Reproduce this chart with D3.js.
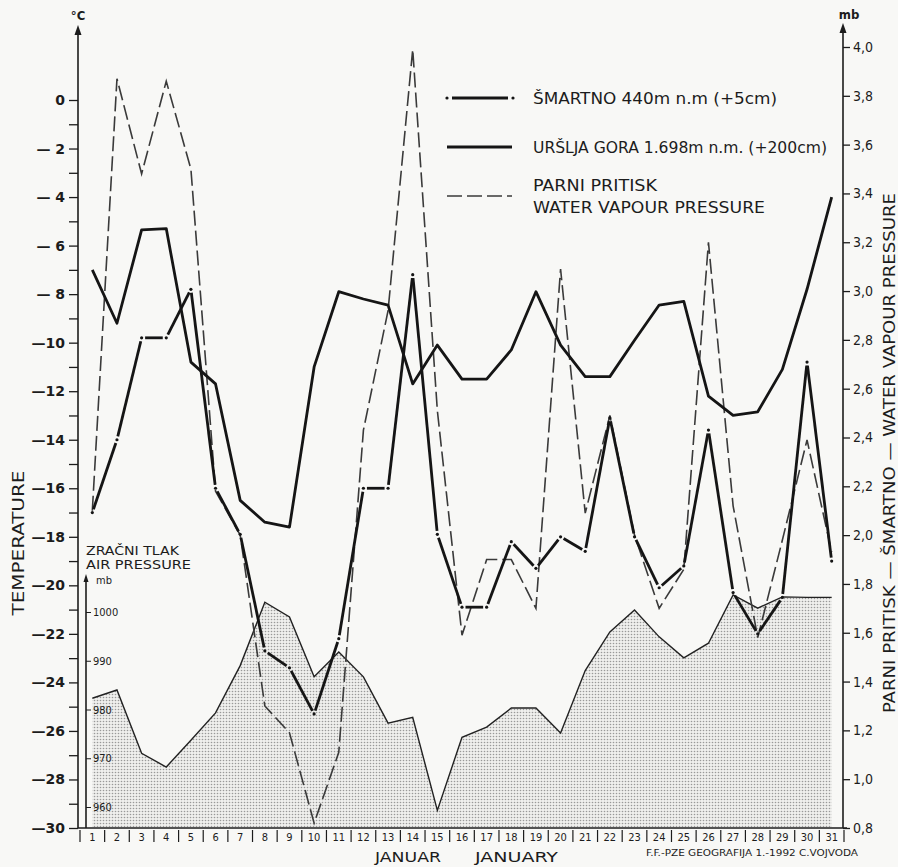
<!DOCTYPE html>
<html>
<head>
<meta charset="utf-8">
<script src="https://cdn.jsdelivr.net/npm/d3@7"></script>
<style>
  body { margin: 0; background: #f8f8f6; }
  svg { display: block; }
  text { fill: #1c1c1c; font-family: "DejaVu Sans Condensed", "DejaVu Sans", sans-serif; }
</style>
</head>
<body>
<div class="chart"></div>
<script>
// Days of January
const days = d3.range(1, 32)

// Šmartno 440 m (+5 cm), °C
const smartno = [-17.0, -14.0, -9.8, -9.8, -7.8, -16.0, -17.9, -22.7, -23.4, -25.3,
  -22.2, -16.0, -16.0, -7.2, -17.9, -20.9, -20.9, -18.2, -19.3, -18.0,
  -18.6, -13.1, -18.0, -20.1, -19.2, -13.6, -20.3, -22.0, -20.5, -10.8, -19.0]

// Uršlja gora 1698 m (+200 cm), °C
const ursljaGora = [-7.0, -9.2, -5.35, -5.3, -10.8, -11.7, -16.5, -17.4, -17.6, -11.0,
  -7.9, -8.2, -8.45, -11.7, -10.1, -11.5, -11.5, -10.3, -7.9, -10.1,
  -11.4, -11.4, -9.9, -8.45, -8.3, -12.2, -13.0, -12.85, -11.1, -7.8, -4.0]

// Water vapour pressure at Šmartno, mb
const vapour = [2.1, 3.87, 3.48, 3.86, 3.5, 2.18, 2.0, 1.3, 1.19, 0.82,
  1.11, 2.43, 2.92, 3.99, 2.51, 1.59, 1.9, 1.9, 1.7, 3.09,
  2.09, 2.49, 2.0, 1.7, 1.86, 3.2, 2.12, 1.58, 1.98, 2.39, 1.93]

// Air pressure, mb
const airPressure = [982.3, 984.0, 971.0, 968.2, 973.7, 979.3, 989.0, 1002.0, 999.0, 986.7,
  991.8, 986.7, 977.2, 978.4, 959.3, 974.3, 976.4, 980.3, 980.3, 975.2,
  988.0, 995.9, 1000.4, 994.9, 990.6, 993.6, 1003.5, 1000.8, 1003.1, 1003.0, 1003.0]

const tempTicks = d3.range(-30, 1)
const vapourTicks = d3.range(4, 21).map(i => i / 5)
const airTicks = [960, 970, 980, 990, 1000]

const legendItems = [
  {key: "smartno", lines: ["ŠMARTNO 440m n.m (+5cm)"], widths: [244]},
  {key: "urslja", lines: ["URŠLJA GORA 1.698m n.m. (+200cm)"], widths: [294]},
  {key: "vapour", lines: ["PARNI PRITISK", "WATER VAPOUR PRESSURE"], widths: [124, 232]}
]

const width = 898, height = 867

const svg = d3.select(".chart").append("svg")
  .attr("width", width)
  .attr("height", height)

svg.append("rect").attr("width", width).attr("height", height).attr("fill", "#f8f8f6")

// stipple for the air pressure area
const defs = svg.append("defs")
const pat = defs.append("pattern")
  .attr("id", "stipple")
  .attr("patternUnits", "userSpaceOnUse")
  .attr("width", 3).attr("height", 3)
pat.append("rect").attr("width", 3).attr("height", 3).attr("fill", "#efefed")
pat.append("circle").attr("cx", 1.5).attr("cy", 1.5).attr("r", 0.8).attr("fill", "#999")

// Scales
const x = d3.scaleBand().domain(days).range([80, 844])
const cx = d => x(d) + x.bandwidth() / 2
const yT = d3.scaleLinear().domain([-30, 0]).range([828, 100])
const yV = d3.scaleLinear().domain([0.8, 4.0]).range([828, 47])
const yP = d3.scaleLinear().domain([960, 1000]).range([807, 612])

const baseY = yT(-30)
const leftX = 78, rightX = 843, airX = 86

// Air pressure area
const airData = days.map((d, i) => ({d, v: airPressure[i]}))
svg.append("path")
  .datum(airData)
  .attr("d", d3.area().x(p => cx(p.d)).y0(baseY - 1).y1(p => yP(p.v)))
  .attr("fill", "url(#stipple)")
svg.append("path")
  .datum(airData)
  .attr("d", d3.line().x(p => cx(p.d)).y(p => yP(p.v)))
  .attr("fill", "none")
  .attr("stroke", "#222")
  .attr("stroke-width", 1.4)

// Water vapour pressure (dashed)
svg.append("path")
  .datum(days.map((d, i) => ({d, v: vapour[i]})))
  .attr("d", d3.line().x(p => cx(p.d)).y(p => yV(p.v)))
  .attr("fill", "none")
  .attr("stroke", "#3a3a3a")
  .attr("stroke-width", 1.6)
  .attr("stroke-dasharray", "15,5")

// Uršlja gora (solid thick)
svg.append("path")
  .datum(days.map((d, i) => ({d, v: ursljaGora[i]})))
  .attr("d", d3.line().x(p => cx(p.d)).y(p => yT(p.v)))
  .attr("fill", "none")
  .attr("stroke", "#151515")
  .attr("stroke-width", 2.8)
  .attr("stroke-linejoin", "round")

// Šmartno (dash-dot: segments broken at each day with a dot)
const smPts = days.map((d, i) => [cx(d), yT(smartno[i])])
const gap = 3.5
const segs = d3.pairs(smPts).map(([a, b]) => {
  const dx = b[0] - a[0], dy = b[1] - a[1]
  const len = Math.hypot(dx, dy)
  const ux = dx / len, uy = dy / len
  return [a[0] + ux * gap, a[1] + uy * gap, b[0] - ux * gap, b[1] - uy * gap]
})
svg.append("g").selectAll("line")
  .data(segs)
  .enter()
  .append("line")
    .attr("x1", s => s[0]).attr("y1", s => s[1])
    .attr("x2", s => s[2]).attr("y2", s => s[3])
    .attr("stroke", "#151515")
    .attr("stroke-width", 2.8)
svg.append("g").selectAll("circle")
  .data(smPts)
  .enter()
  .append("circle")
    .attr("cx", p => p[0]).attr("cy", p => p[1])
    .attr("r", 1.6)
    .attr("fill", "#151515")

// Left temperature axis
const tempFmt = v => v === 0 ? "0" : (v % 2 ? "" : (Math.abs(v) < 10 ? "— " : "—") + Math.abs(v))
svg.append("g")
  .attr("transform", `translate(${leftX},0)`)
  .call(d3.axisLeft(yT).tickValues(tempTicks).tickSize(9).tickPadding(4).tickFormat(tempFmt))
  .call(g => g.select(".domain").remove())
  .call(g => g.selectAll(".tick line").attr("stroke", "#1c1c1c").attr("stroke-width", 1.3))
  .call(g => g.selectAll(".tick text")
    .attr("font-size", 14).attr("font-weight", "bold")
    .style("font-family", "'DejaVu Sans', sans-serif"))

svg.append("line")
  .attr("x1", leftX).attr("x2", leftX)
  .attr("y1", baseY).attr("y2", 32)
  .attr("stroke", "#1c1c1c").attr("stroke-width", 1.6)
svg.append("path")
  .attr("d", `M${leftX},25L${leftX - 3.5},35L${leftX + 3.5},35Z`)
  .attr("fill", "#1c1c1c")
svg.append("text")
  .attr("x", leftX).attr("y", 20)
  .attr("text-anchor", "middle")
  .attr("font-size", 13).attr("font-weight", "bold")
  .text("°C")

// Right vapour axis
svg.append("g")
  .attr("transform", `translate(${rightX},0)`)
  .call(d3.axisRight(yV).tickValues(vapourTicks).tickSize(7).tickPadding(3)
    .tickFormat(v => d3.format(".1f")(v).replace(".", ",")))
  .call(g => g.select(".domain").remove())
  .call(g => g.selectAll(".tick line").attr("stroke", "#1c1c1c").attr("stroke-width", 1.3))
  .call(g => g.selectAll(".tick text")
    .attr("font-size", 14)
    .style("font-family", "'DejaVu Sans Condensed', sans-serif"))

svg.append("line")
  .attr("x1", rightX).attr("x2", rightX)
  .attr("y1", baseY).attr("y2", 30)
  .attr("stroke", "#1c1c1c").attr("stroke-width", 1.6)
svg.append("path")
  .attr("d", `M${rightX},23L${rightX - 3.5},33L${rightX + 3.5},33Z`)
  .attr("fill", "#1c1c1c")
svg.append("text")
  .attr("x", rightX + 6).attr("y", 19)
  .attr("text-anchor", "middle")
  .attr("font-size", 13).attr("font-weight", "bold")
  .text("mb")

// Inner air pressure axis
svg.append("g")
  .attr("transform", `translate(${airX},0)`)
  .call(d3.axisRight(yP).tickValues(airTicks).tickSize(5).tickPadding(2).tickFormat(d3.format("d")))
  .call(g => g.select(".domain").remove())
  .call(g => g.selectAll(".tick line").attr("stroke", "#1c1c1c"))
  .call(g => g.selectAll(".tick text")
    .attr("font-size", 11).attr("fill", "#333")
    .style("font-family", "'DejaVu Sans Condensed', sans-serif"))
svg.append("line")
  .attr("x1", airX).attr("x2", airX)
  .attr("y1", baseY).attr("y2", 580)
  .attr("stroke", "#1c1c1c").attr("stroke-width", 1.6)
svg.append("path")
  .attr("d", `M${airX},574L${airX - 2.5},582L${airX + 2.5},582Z`)
  .attr("fill", "#1c1c1c")

const airLabel = [["ZRAČNI TLAK", 555, 93], ["AIR PRESSURE", 569, 105]]
svg.selectAll(".air-label")
  .data(airLabel)
  .enter()
  .append("text")
    .attr("x", 86).attr("y", d => d[1])
    .attr("font-size", 12)
    .attr("textLength", d => d[2]).attr("lengthAdjust", "spacingAndGlyphs")
    .text(d => d[0])
svg.append("text")
  .attr("x", 96).attr("y", 584)
  .attr("font-size", 11)
  .text("mb")

// Bottom day axis
svg.append("line")
  .attr("x1", leftX).attr("x2", rightX + 4)
  .attr("y1", baseY).attr("y2", baseY)
  .attr("stroke", "#1c1c1c").attr("stroke-width", 1.6)
svg.append("g").selectAll("line")
  .data(days.map(d => x(d)).concat([x.range()[1]]))
  .enter()
  .append("line")
    .attr("x1", d => d).attr("x2", d => d)
    .attr("y1", baseY + 2).attr("y2", baseY + 14)
    .attr("stroke", "#1c1c1c").attr("stroke-width", 1.2)
svg.append("g").selectAll("text")
  .data(days)
  .enter()
  .append("text")
    .attr("x", d => cx(d)).attr("y", baseY + 13)
    .attr("text-anchor", "middle")
    .attr("font-size", 11)
    .text(d => d)

svg.append("text")
  .attr("x", 375).attr("y", 862)
  .attr("font-size", 14)
  .attr("textLength", 66).attr("lengthAdjust", "spacingAndGlyphs")
  .text("JANUAR")
svg.append("text")
  .attr("x", 475).attr("y", 862)
  .attr("font-size", 14)
  .attr("textLength", 83).attr("lengthAdjust", "spacingAndGlyphs")
  .text("JANUARY")
svg.append("text")
  .attr("x", 646).attr("y", 856)
  .attr("font-size", 8).attr("fill", "#444")
  .attr("textLength", 212).attr("lengthAdjust", "spacingAndGlyphs")
  .text("F.F.-PZE GEOGRAFIJA 1.-1992  C.VOJVODA")

// Axis titles
svg.append("text")
  .attr("transform", "translate(24,543) rotate(-90)")
  .attr("text-anchor", "middle")
  .attr("font-size", 15)
  .attr("textLength", 145).attr("lengthAdjust", "spacingAndGlyphs")
  .text("TEMPERATURE")
svg.append("text")
  .attr("transform", "translate(895,453) rotate(-90)")
  .attr("text-anchor", "middle")
  .attr("font-size", 15)
  .attr("textLength", 520).attr("lengthAdjust", "spacingAndGlyphs")
  .text("PARNI PRITISK — ŠMARTNO — WATER VAPOUR PRESSURE")

// Legend
const legend = svg.append("g").attr("class", "legend")
const legY = [98, 147, 196]
legendItems.forEach((item, i) => {
  const y = legY[i]
  if (item.key === "smartno") {
    legend.append("line").attr("x1", 452).attr("x2", 508).attr("y1", y).attr("y2", y)
      .attr("stroke", "#151515").attr("stroke-width", 2.8)
    legend.selectAll(".sm-dot").data([447, 513]).enter().append("circle")
      .attr("cx", d => d).attr("cy", y).attr("r", 1.6).attr("fill", "#151515")
  } else if (item.key === "urslja") {
    legend.append("line").attr("x1", 447).attr("x2", 512).attr("y1", y).attr("y2", y)
      .attr("stroke", "#151515").attr("stroke-width", 2.8)
  } else {
    legend.append("line").attr("x1", 447).attr("x2", 512).attr("y1", y).attr("y2", y)
      .attr("stroke", "#3a3a3a").attr("stroke-width", 1.6).attr("stroke-dasharray", "15,5")
  }
  const baseYs = item.lines.length === 1 ? [y + 6] : [y - 5, y + 17]
  item.lines.forEach((t, j) => {
    legend.append("text")
      .attr("x", 533).attr("y", baseYs[j])
      .attr("font-size", 16)
      .attr("textLength", item.widths[j]).attr("lengthAdjust", "spacingAndGlyphs")
      .text(t)
  })
})
</script>
</body>
</html>
